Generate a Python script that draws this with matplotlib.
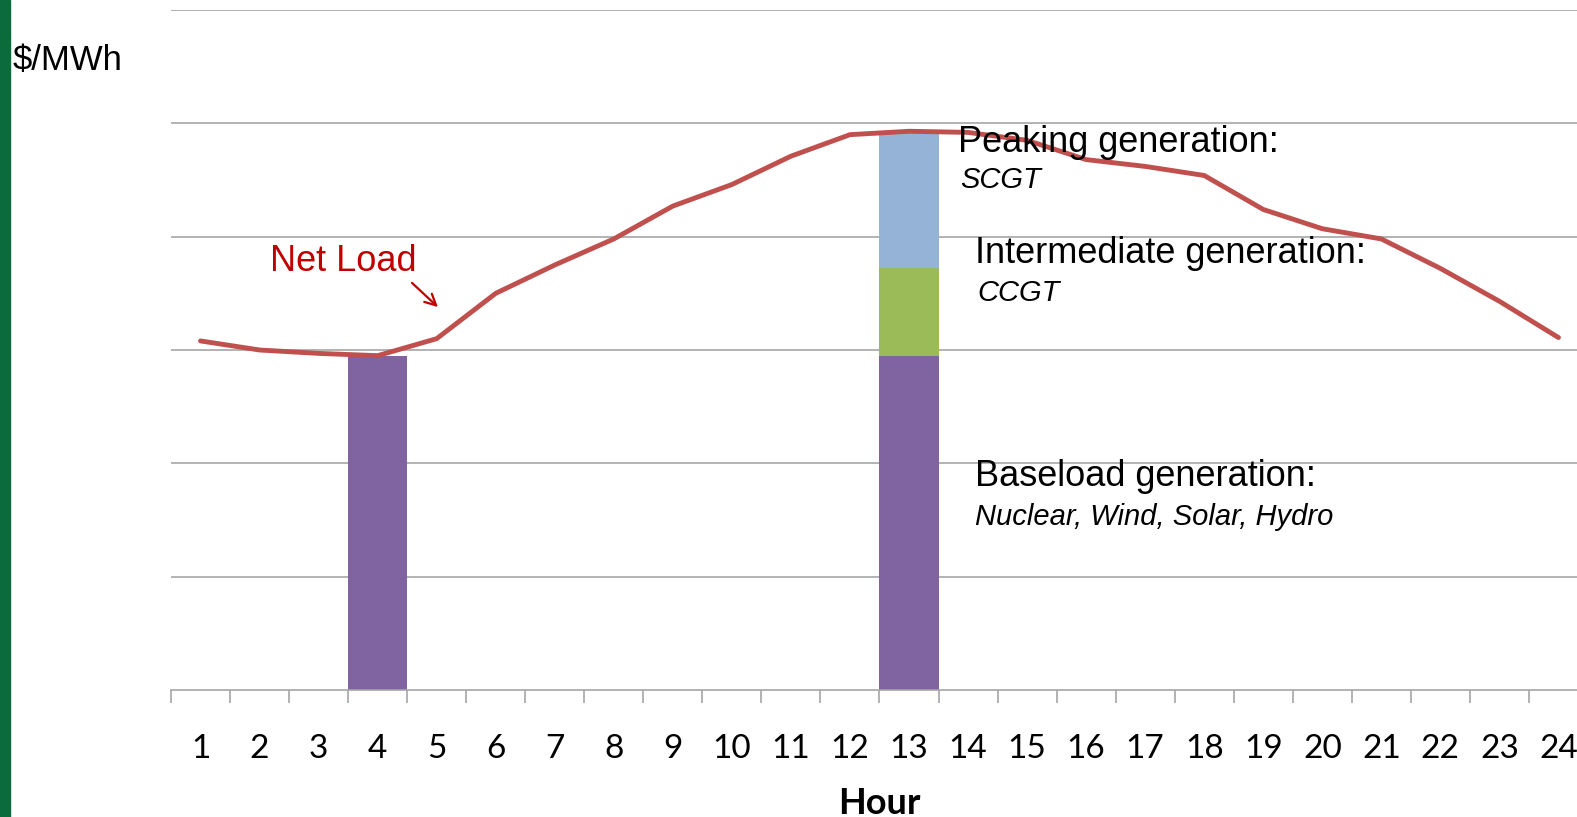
import matplotlib
matplotlib.use("Agg")
import matplotlib.pyplot as plt
from matplotlib.patches import Rectangle, FancyArrowPatch

hours = list(range(1, 25))
net_load = [3.08, 3.00, 2.97, 2.95, 3.10, 3.50, 3.75, 3.98, 4.27, 4.46, 4.71, 4.90,
            4.93, 4.92, 4.85, 4.68, 4.62, 4.54, 4.24, 4.07, 3.98, 3.72, 3.43, 3.11]

bar_hours = [4, 13]
baseload = [2.95, 2.95]
intermediate = [0.0, 0.77]
peaking = [0.0, 1.21]

c_base = "#8064A2"
c_inter = "#9BBB59"
c_peak = "#95B3D7"
c_line = "#C0504D"

plt.rcParams['font.family'] = ['Liberation Sans', 'DejaVu Sans']

W, H = 1577, 817
fig = plt.figure(figsize=(15.77, 8.17), dpi=100)
ax_left, ax_bottom, ax_top, hour_w = 171, 690, 10, 59.04
ax = fig.add_axes([ax_left/W, 1-ax_bottom/H, 24*hour_w/W, (ax_bottom-ax_top)/H])

# bars
ax.bar(bar_hours, baseload, width=1.0, color=c_base, zorder=2)
ax.bar(bar_hours, intermediate, width=1.0, bottom=baseload, color=c_inter, zorder=2)
bot3 = [b + i for b, i in zip(baseload, intermediate)]
ax.bar(bar_hours, peaking, width=1.0, bottom=bot3, color=c_peak, zorder=2)

ax.plot(hours, net_load, color=c_line, lw=3.5, zorder=3, solid_capstyle='round')

ax.set_xlim(0.5, 24.5)
ax.set_ylim(0, 6)
ax.set_yticks([1, 2, 3, 4, 5, 6])
ax.yaxis.grid(True, color="#A6A6A6", lw=1.2)
ax.set_axisbelow(True)
ax.tick_params(axis='y', left=False, labelleft=False)
for s in ['left', 'right', 'top']:
    ax.spines[s].set_visible(False)
ax.spines['bottom'].set_color("#A6A6A6")
ax.spines['bottom'].set_linewidth(1.2)

ax.set_xticks([h + 0.5 for h in range(0, 25)])
ax.set_xticklabels([])
ax.tick_params(axis='x', which='major', length=9, color="#A6A6A6", width=1.2, direction='out')
ax.set_xticks(hours, minor=True)
ax.set_xticklabels([str(h) for h in hours], minor=True, fontsize=24,
                   family=['Lato', 'DejaVu Sans'])
ax.tick_params(axis='x', which='minor', length=0, pad=32)

# left green bar
fig.patches.append(Rectangle((0, 0), 10/W, 1, transform=fig.transFigure,
                             color="#0B6B3A", zorder=0))

def px(x, y):
    return (x/W, 1-y/H)

fig.text(*px(838, 814), "Hour", fontsize=26, fontweight='bold',
         family=['Lato', 'DejaVu Sans'], va='baseline', ha='left')

fig.text(*px(13, 70), "$/MWh", fontsize=25, va='baseline', ha='left')

fig.text(*px(958, 152), "Peaking generation:", fontsize=26, va='baseline', ha='left')
fig.text(*px(960, 188), "SCGT", fontsize=21, style='italic', va='baseline', ha='left')
fig.text(*px(975, 263), "Intermediate generation:", fontsize=26, va='baseline', ha='left')
fig.text(*px(977, 301), "CCGT", fontsize=21, style='italic', va='baseline', ha='left')
fig.text(*px(975, 486), "Baseload generation:", fontsize=26, va='baseline', ha='left')
fig.text(*px(975, 525), "Nuclear, Wind, Solar, Hydro", fontsize=21, style='italic',
         va='baseline', ha='left')
fig.text(*px(270, 271), "Net Load", fontsize=26, color="#C00000", va='baseline', ha='left')

fig.add_artist(FancyArrowPatch(px(410, 281), px(440, 309), transform=fig.transFigure,
                               arrowstyle='->', mutation_scale=20, color="#C00000", lw=1.6))

fig.savefig("out.png", dpi=100)
